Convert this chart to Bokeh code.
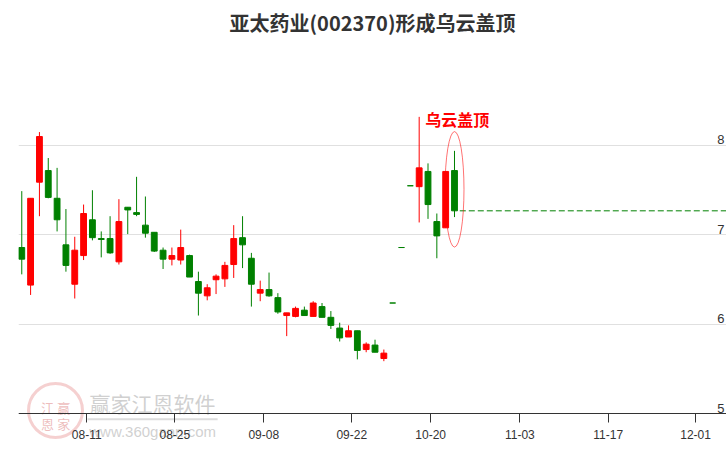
from bokeh.plotting import figure
from bokeh.models import FixedTicker, Range1d, ColumnDataSource
from bokeh.core.properties import value
from bokeh.embed import file_html
from bokeh.resources import INLINE

# ---- data ----
title_text = "亚太药业(002370)形成乌云盖顶"
pattern_label = "乌云盖顶"

opens = [6.86, 6.44, 7.59, 7.72, 7.41, 6.89, 6.45, 6.77, 7.17, 6.96, 6.96, 6.70, 7.31, 7.25, 7.11, 7.03, 6.83, 6.73, 6.72, 6.77,
         6.48, 6.32, 6.50, 6.51, 6.67, 6.97, 6.74, 6.35, 6.39, 6.30, 6.10, 6.09, 6.16, 6.09, 6.20, 6.08, 5.96, 5.86, 5.93, 5.72,
         5.77, 5.62, 6.24, 6.86, 7.55, 7.54, 7.71, 7.15, 7.08, 7.72]
closes = [6.73, 7.41, 8.10, 7.42, 7.17, 6.66, 6.83, 7.24, 6.97, 6.95, 6.80, 7.15, 7.28, 7.23, 7.02, 6.82, 6.73, 6.77, 6.86, 6.53,
          6.35, 6.41, 6.54, 6.66, 6.96, 6.89, 6.45, 6.39, 6.32, 6.14, 6.13, 6.18, 6.10, 6.24, 6.08, 5.99, 5.85, 5.93, 5.71, 5.78,
          5.69, 5.68, 6.24, 6.86, 7.55, 7.75, 7.34, 6.99, 7.71, 7.27]
highs = [7.49, 7.41, 8.15, 7.86, 7.75, 7.29, 6.98, 7.34, 7.50, 7.04, 7.21, 7.40, 7.31, 7.65, 7.43, 7.03, 6.86, 6.86, 7.06, 6.78,
         6.59, 6.45, 6.56, 6.70, 7.11, 7.21, 6.80, 6.49, 6.58, 6.35, 6.13, 6.20, 6.20, 6.26, 6.24, 6.15, 6.02, 5.99, 5.93, 5.80,
         5.83, 5.72, 6.24, 6.86, 7.55, 8.32, 7.80, 7.24, 7.71, 7.94]
lows = [6.56, 6.33, 7.21, 7.41, 7.04, 6.59, 6.29, 6.72, 6.94, 6.75, 6.79, 6.67, 7.01, 7.21, 6.97, 6.81, 6.62, 6.66, 6.67, 6.53,
        6.10, 6.27, 6.34, 6.42, 6.52, 6.63, 6.20, 6.26, 6.31, 6.12, 5.87, 6.08, 6.10, 6.09, 6.08, 5.95, 5.81, 5.86, 5.61, 5.69,
        5.69, 5.59, 6.24, 6.86, 7.55, 7.14, 7.18, 6.74, 7.08, 7.20]

tick_index = [7.36, 17.33, 27.4, 37.37, 46.3, 56.4, 66.4, 76.3]
tick_labels = ["08-11", "08-25", "09-08", "09-22", "10-20", "11-03", "11-17", "12-01"]
y_ticks = [5, 6, 7, 8]

watermark_name = "赢家江恩软件"
watermark_url = "www.360gann.com"
watermark_seal = ["江", "赢", "恩", "家"]

UP = "#ff0000"
DOWN = "#008000"

n = len(opens)
xs = list(range(n))
colors = [UP if c > o else DOWN for o, c in zip(opens, closes)]
src = ColumnDataSource(dict(
    x=xs, open=opens, close=closes, high=highs, low=lows,
    top=[max(o, c) for o, c in zip(opens, closes)],
    bottom=[min(o, c) for o, c in zip(opens, closes)],
    color=colors,
))

W, H = 726, 450
LEFT = 18
X0, X1 = -0.37, 79.8
Y0, Y1 = 4.592, 9.62
BASE = y_ticks[0]

p = figure(width=W, height=H, output_backend="svg", toolbar_location=None,
           x_range=Range1d(X0, X1), y_range=Range1d(Y0, Y1),
           min_border_left=LEFT, min_border_right=0, min_border_top=0, min_border_bottom=0)
p.outline_line_color = None
p.background_fill_color = "white"
p.border_fill_color = "white"

# grid
p.xgrid.visible = False
p.ygrid.ticker = FixedTicker(ticks=y_ticks)
p.ygrid.grid_line_color = "#e0e0e0"
p.ygrid.grid_line_width = 1

# axes
p.yaxis.visible = False
p.xaxis.fixed_location = BASE
p.xaxis.ticker = FixedTicker(ticks=tick_index)
p.xaxis.major_label_overrides = {t: l for t, l in zip(tick_index, tick_labels)}
p.xaxis.axis_line_color = "#333333"
p.xaxis.major_tick_line_color = "#333333"
p.xaxis.major_tick_out = 9
p.xaxis.major_tick_in = 0
p.xaxis.minor_tick_line_color = None
p.xaxis.major_label_standoff = 7
p.xaxis.major_label_text_font = "Liberation Sans"
p.xaxis.major_label_text_font_size = "12px"
p.xaxis.major_label_text_color = "#333333"

# title, centred over the price area, in the space above it
p.text(x=[(X0 + X1) / 2], y=[9.374], text=[title_text], text_align="center", text_baseline="middle",
       text_font=value("Noto Sans CJK SC"), text_font_size="20px", text_font_style="bold",
       text_color="#333333")

# faint watermark (drawn first, behind everything)
p.circle(x=[3.82], y=[5.039], radius=27, radius_units="screen", fill_color=None,
         line_color="#f2c4c4", line_width=3, line_alpha=0.8)
p.text(x=[2.92, 4.76, 2.92, 4.76], y=[5.078, 5.078, 4.894, 4.894], text=watermark_seal,
       text_align="center", text_baseline="middle", text_font=value("Noto Sans CJK SC"),
       text_font_size="13px", text_color="#e8a8a8", text_alpha=0.75)
p.text(x=[14.815], y=[5.128], text=[watermark_name], text_align="center", text_baseline="middle",
       text_font=value("Noto Sans CJK SC"), text_font_size="21px", text_color="#c8c8c8", text_alpha=0.85)
p.segment(x0=[7.45], y0=[4.94], x1=[22.18], y1=[4.94], line_color="#dddddd", line_width=2)
p.text(x=[14.815], y=[4.804], text=[watermark_url], text_align="center", text_baseline="middle",
       text_font=value("Liberation Sans"), text_font_size="15px", text_color="#c8c8c8", text_alpha=0.85)

# y labels inside the plot at the right end, above grid lines
p.text(x=[X1] * len(y_ticks), y=y_ticks, text=[str(t) for t in y_ticks],
       text_align="right", text_baseline="bottom", x_offset=-2, y_offset=-1,
       text_font=value("Liberation Sans"), text_font_size="13px", text_color="#333333")

# candles
p.segment(x0="x", y0="low", x1="x", y1="high", color="color", line_width=1, source=src)
p.vbar(x="x", width=0.66, top="top", bottom="bottom", fill_color="color", line_color="color",
       line_width=1, source=src)

# dashed line at last close
last = n - 1
p.segment(x0=[last + 0.6], y0=[closes[-1]], x1=[X1], y1=[closes[-1]],
          line_color=DOWN, line_width=1, line_dash="6 3")

# ellipse around the pattern and label
hi2 = max(highs[-2:])
lo2 = min(lows[-2:])
p.ellipse(x=[last], y=[(hi2 + lo2) / 2], width=2.15, height=(hi2 - lo2) * 1.5,
          fill_color=None, line_color="#ff0000", line_alpha=0.55, line_width=1)
p.text(x=[last + 0.32], y=[(hi2 + lo2) / 2 + (hi2 - lo2) * 0.75 + 0.14], text=[pattern_label],
       text_align="center", text_baseline="middle",
       text_font=value("Noto Sans CJK SC"), text_font_size="16px", text_font_style="bold",
       text_color="#ff0000")

open("out.html", "w").write(file_html(p, INLINE))
